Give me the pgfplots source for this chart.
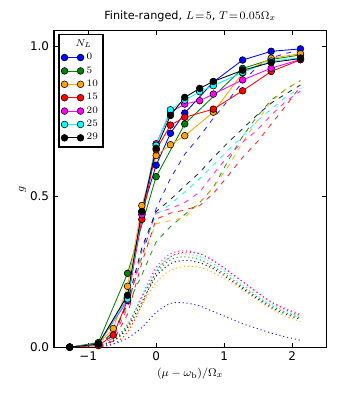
\documentclass[border=0pt]{standalone}
\usepackage[no-math]{fontspec}
\setmainfont{DejaVu Sans}
\usepackage{pgfplots}
\pgfplotsset{compat=1.18}
\definecolor{mblue}{rgb}{0,0,1}
\definecolor{mgreen}{rgb}{0,0.5,0}
\definecolor{morange}{rgb}{1,0.647,0}
\definecolor{mred}{rgb}{1,0,0}
\definecolor{mmag}{rgb}{1,0,1}
\definecolor{mcyan}{rgb}{0,1,1}

\pgfplotsset{
  sol/.style={color=#1, line width=0.6pt, mark=*, mark size=2.4pt,
              mark options={draw=black, fill=#1, line width=0.4pt, solid}},
  dsh/.style={color=#1, line width=0.6pt, opacity=0.85,
              dash pattern=on 3.5pt off 4pt, forget plot},
  dot/.style={color=#1, line width=0.7pt, opacity=0.85,
              dash pattern=on 0.8pt off 2pt, smooth, forget plot},
}

\begin{document}
\begin{tikzpicture}
\begin{axis}[
  name=ax,
  scale only axis, width=6.8cm, height=7.9cm,
  xmin=-1.5, xmax=2.5, ymin=0, ymax=1.05,
  xtick={-1,0,1,2}, xticklabels={−1,0,1,2},
  ytick={0,0.5,1}, yticklabels={0.0,0.5,1.0},
  tick align=inside, major tick length=0.1cm,
  axis line style={line width=0.9pt},
  tick style={black, line width=0.5pt},
  tick label style={font=\fontsize{8.5}{10}\selectfont},
  title={Finite-ranged, $L\!=\!5$, $T\!=\!0.05\Omega_x$},
  title style={font=\fontsize{8}{10}\selectfont, yshift=-3pt},
  xlabel={$(\mu-\omega_{\mathrm{b}})/\Omega_x$},
  ylabel={$g$},
  label style={font=\fontsize{8.5}{10}\selectfont},
  xlabel style={yshift=2pt},
  ylabel style={yshift=-4pt},
  legend style={at={(0.016,0.99)}, anchor=north west, draw=black,
    line width=0.9pt, font=\fontsize{7}{8}\selectfont, row sep=-0.5pt,
    inner sep=1.5pt, cells={anchor=west}},
  legend image code/.code={\draw[#1] plot coordinates {(0cm,0cm) (0.4cm,0cm)};},
]
% dotted curves
\addplot[dot=mblue] coordinates {(-0.85,0.002) (-0.63,0.01) (-0.42,0.03) (-0.21,0.065) (0,0.115) (0.21,0.145) (0.42,0.147) (0.64,0.137) (0.84,0.118) (1.06,0.098) (1.27,0.078) (1.48,0.062) (1.69,0.047) (1.9,0.034) (2.12,0.023)};
\addplot[dot=mgreen] coordinates {(-0.85,0.004) (-0.63,0.025) (-0.42,0.075) (-0.21,0.165) (0,0.245) (0.21,0.29) (0.42,0.30) (0.64,0.29) (0.84,0.267) (1.06,0.235) (1.27,0.20) (1.48,0.167) (1.69,0.137) (1.9,0.115) (2.12,0.097)};
\addplot[dot=morange] coordinates {(-0.85,0.003) (-0.63,0.02) (-0.42,0.06) (-0.21,0.14) (0,0.215) (0.21,0.255) (0.42,0.268) (0.64,0.265) (0.84,0.247) (1.06,0.22) (1.27,0.19) (1.48,0.157) (1.69,0.127) (1.9,0.103) (2.12,0.085)};
\addplot[dot=mred] coordinates {(-0.85,0.001) (-0.63,0.01) (-0.42,0.05) (-0.21,0.14) (0,0.25) (0.21,0.30) (0.42,0.315) (0.64,0.31) (0.84,0.287) (1.06,0.253) (1.27,0.218) (1.48,0.183) (1.69,0.15) (1.9,0.125) (2.12,0.105)};
\addplot[dot=mmag] coordinates {(-0.85,0.003) (-0.63,0.02) (-0.42,0.07) (-0.21,0.17) (0,0.265) (0.21,0.31) (0.42,0.32) (0.64,0.31) (0.84,0.287) (1.06,0.252) (1.27,0.217) (1.48,0.182) (1.69,0.15) (1.9,0.128) (2.12,0.11)};
\addplot[dot=mcyan] coordinates {(-0.85,0.003) (-0.63,0.02) (-0.42,0.07) (-0.21,0.165) (0,0.255) (0.21,0.30) (0.42,0.31) (0.64,0.30) (0.84,0.277) (1.06,0.243) (1.27,0.207) (1.48,0.172) (1.69,0.142) (1.9,0.12) (2.12,0.10)};
\addplot[dot=black] coordinates {(-0.85,0.003) (-0.63,0.02) (-0.42,0.065) (-0.21,0.15) (0,0.235) (0.21,0.277) (0.42,0.288) (0.64,0.28) (0.84,0.26) (1.06,0.228) (1.27,0.195) (1.48,0.162) (1.69,0.132) (1.9,0.11) (2.12,0.092)};
% dashed curves
\addplot[dsh=mblue] coordinates {(-0.85,0.005) (-0.63,0.05) (-0.42,0.14) (-0.21,0.30) (0,0.46) (0.21,0.56) (0.42,0.64) (0.64,0.70) (0.84,0.76) (1.06,0.82) (1.27,0.88) (1.48,0.93) (1.69,0.96) (1.9,0.975) (2.12,0.985)};
\addplot[dsh=mgreen] coordinates {(-0.85,0.005) (-0.63,0.05) (-0.42,0.14) (-0.21,0.24) (0,0.35) (0.21,0.40) (0.42,0.44) (0.64,0.48) (0.84,0.53) (1.06,0.62) (1.27,0.70) (1.48,0.765) (1.69,0.82) (1.9,0.855) (2.12,0.885)};
\addplot[dsh=morange] coordinates {(-0.85,0.005) (-0.63,0.04) (-0.42,0.14) (-0.21,0.30) (0,0.41) (0.21,0.42) (0.42,0.43) (0.64,0.48) (0.84,0.53) (1.06,0.60) (1.27,0.68) (1.48,0.75) (1.69,0.815) (1.9,0.855) (2.12,0.885)};
\addplot[dsh=mred] coordinates {(-0.85,0.003) (-0.63,0.02) (-0.42,0.11) (-0.21,0.28) (0,0.425) (0.21,0.445) (0.42,0.455) (0.64,0.47) (0.84,0.51) (1.06,0.57) (1.27,0.63) (1.48,0.68) (1.69,0.74) (1.9,0.80) (2.12,0.865)};
\addplot[dsh=mmag] coordinates {(-0.85,0.005) (-0.63,0.03) (-0.42,0.13) (-0.21,0.32) (0,0.445) (0.21,0.46) (0.42,0.48) (0.64,0.515) (0.84,0.575) (1.06,0.635) (1.27,0.68) (1.48,0.72) (1.69,0.77) (1.9,0.815) (2.12,0.85)};
\addplot[dsh=mcyan] coordinates {(-0.85,0.005) (-0.63,0.04) (-0.42,0.15) (-0.21,0.33) (0,0.44) (0.21,0.475) (0.42,0.515) (0.64,0.56) (0.84,0.605) (1.06,0.655) (1.27,0.70) (1.48,0.75) (1.69,0.79) (1.9,0.83) (2.12,0.86)};
\addplot[dsh=black] coordinates {(-0.85,0.005) (-0.63,0.04) (-0.42,0.15) (-0.21,0.33) (0,0.45) (0.21,0.49) (0.42,0.535) (0.64,0.58) (0.84,0.63) (1.06,0.68) (1.27,0.725) (1.48,0.77) (1.69,0.81) (1.9,0.84) (2.12,0.87)};
% legend title
\addlegendimage{empty legend}
\addlegendentry{\hspace*{-0.28cm}$N_L$}
% solid curves with markers
\addplot[sol=mblue] coordinates {(-1.27,0) (-0.85,0.01) (-0.42,0.16) (-0.21,0.45) (0,0.604) (0.21,0.71) (0.42,0.777) (0.84,0.88) (1.27,0.953) (1.69,0.982) (2.12,0.99)};
\addlegendentry{$0$}
\addplot[sol=mgreen] coordinates {(-1.27,0) (-0.85,0.015) (-0.42,0.245) (0,0.566) (0.42,0.741) (1.27,0.925) (1.69,0.955) (2.12,0.97)};
\addlegendentry{$5$}
\addplot[sol=morange] coordinates {(-1.27,0) (-0.85,0.01) (-0.63,0.062) (-0.42,0.202) (-0.21,0.47) (0,0.636) (0.21,0.672) (0.42,0.702) (0.84,0.78) (1.27,0.91) (1.69,0.959) (2.12,0.974)};
\addlegendentry{$10$}
\addplot[sol=mred] coordinates {(-1.27,0) (-0.85,0.005) (-0.63,0.04) (-0.42,0.155) (-0.21,0.424) (0,0.655) (0.21,0.737) (0.42,0.763) (0.84,0.79) (1.27,0.851) (1.69,0.915) (2.12,0.954)};
\addlegendentry{$15$}
\addplot[sol=mmag] coordinates {(-1.27,0) (-0.85,0.01) (-0.42,0.155) (-0.21,0.44) (0,0.675) (0.21,0.78) (0.42,0.807) (0.64,0.818) (0.84,0.84) (1.27,0.887) (1.69,0.926) (2.12,0.955)};
\addlegendentry{$20$}
\addplot[sol=mcyan] coordinates {(-1.27,0) (-0.85,0.01) (-0.42,0.16) (-0.21,0.45) (0,0.67) (0.21,0.788) (0.42,0.82) (0.64,0.848) (0.84,0.868) (1.27,0.912) (1.69,0.95) (2.12,0.96)};
\addlegendentry{$25$}
\addplot[sol=black] coordinates {(-1.27,0) (-0.85,0.01) (-0.42,0.172) (-0.21,0.45) (0,0.66) (0.21,0.769) (0.42,0.829) (0.64,0.859) (0.84,0.882) (1.27,0.919) (1.69,0.945) (2.12,0.958)};
\addlegendentry{$29$}
\end{axis}
\pgfresetboundingbox
\path ([xshift=-1.35cm,yshift=-1.32cm]ax.south west) rectangle ([xshift=0.3cm,yshift=0.77cm]ax.north east);
\end{tikzpicture}
\end{document}
